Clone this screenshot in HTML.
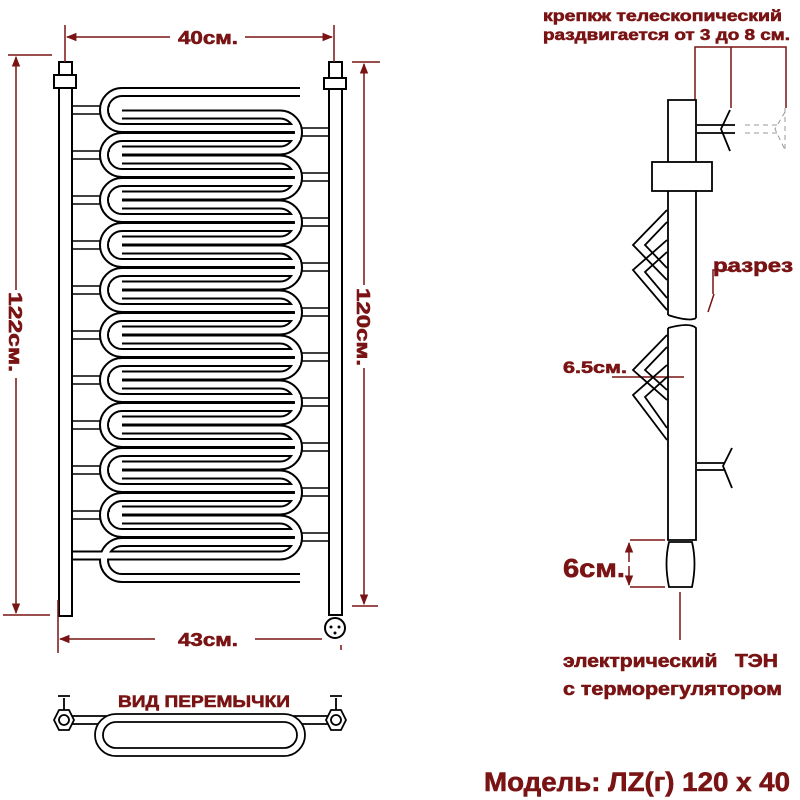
<!DOCTYPE html>
<html><head><meta charset="utf-8"><style>
html,body{margin:0;padding:0;background:#fff;width:800px;height:800px;overflow:hidden}
svg{display:block}
.t{font-family:"Liberation Sans","Noto Sans CJK SC",sans-serif;font-weight:bold;fill:#7a1414;stroke:#7a1414;stroke-width:0.6}
</style></head><body>
<svg width="800" height="800" viewBox="0 0 800 800" xmlns="http://www.w3.org/2000/svg">
<defs>
<marker id="a" viewBox="0 0 10 10" refX="9" refY="5" markerWidth="7" markerHeight="7" orient="auto-start-reverse"><path d="M0,1 L10,5 L0,9 z" fill="#7a1414"/></marker>
<g id="sp">
<path d="M300 92 H122 A18 18 0 0 0 122 128 H300"/>
<path d="M122 114.5 H280 A18 18 0 0 1 280 150.5 H122"/>
<path d="M300 137 H122 A18 18 0 0 0 122 173 H300"/>
<path d="M122 159.5 H280 A18 18 0 0 1 280 195.5 H122"/>
<path d="M300 182 H122 A18 18 0 0 0 122 218 H300"/>
<path d="M122 204.5 H280 A18 18 0 0 1 280 240.5 H122"/>
<path d="M300 227 H122 A18 18 0 0 0 122 263 H300"/>
<path d="M122 249.5 H280 A18 18 0 0 1 280 285.5 H122"/>
<path d="M300 272 H122 A18 18 0 0 0 122 308 H300"/>
<path d="M122 294.5 H280 A18 18 0 0 1 280 330.5 H122"/>
<path d="M300 317 H122 A18 18 0 0 0 122 353 H300"/>
<path d="M122 339.5 H280 A18 18 0 0 1 280 375.5 H122"/>
<path d="M300 362 H122 A18 18 0 0 0 122 398 H300"/>
<path d="M122 384.5 H280 A18 18 0 0 1 280 420.5 H122"/>
<path d="M300 407 H122 A18 18 0 0 0 122 443 H300"/>
<path d="M122 429.5 H280 A18 18 0 0 1 280 465.5 H122"/>
<path d="M300 452 H122 A18 18 0 0 0 122 488 H300"/>
<path d="M122 474.5 H280 A18 18 0 0 1 280 510.5 H122"/>
<path d="M300 497 H122 A18 18 0 0 0 122 533 H300"/>
<path d="M122 519.5 H280 A18 18 0 0 1 280 555.5 H72"/>
<path d="M300 542 H122 A18 18 0 0 0 122 578 H300"/>
</g>
</defs>
<!-- ladder bars -->
<g stroke="#000" stroke-width="1.5" fill="none">
<path d="M72 106 H110 M72 114 H110 M72 151 H110 M72 159 H110 M72 196 H110 M72 204 H110 M72 241 H110 M72 249 H110 M72 286 H110 M72 294 H110 M72 331 H110 M72 339 H110 M72 376 H110 M72 384 H110 M72 421 H110 M72 429 H110 M72 466 H110 M72 474 H110 M72 511 H110 M72 519 H110"/>
<path d="M300 128 H328 M300 136 H328 M300 173 H328 M300 181 H328 M300 218 H328 M300 226 H328 M300 263 H328 M300 271 H328 M300 308 H328 M300 316 H328 M300 353 H328 M300 361 H328 M300 398 H328 M300 406 H328 M300 443 H328 M300 451 H328 M300 488 H328 M300 496 H328 M300 533 H328 M300 541 H328"/>
</g>
<use href="#sp" fill="none" stroke="#000" stroke-width="10"/>
<use href="#sp" fill="none" stroke="#fff" stroke-width="6"/>
<!-- posts -->
<g stroke="#000" stroke-width="2" fill="#fff">
<rect x="59" y="62" width="13" height="554"/>
<rect x="329" y="62" width="13" height="553"/>
<rect x="54" y="75" width="22" height="13"/>
<rect x="324" y="78" width="22" height="11"/>
<circle cx="335" cy="628" r="10"/>
</g>
<g fill="#000"><circle cx="331" cy="627" r="1.5"/><circle cx="339" cy="627" r="1.5"/><circle cx="335" cy="633" r="1.5"/></g>
<!-- dimensions -->
<g stroke="#7a1414" stroke-width="1.5" fill="none">
<path d="M65 25 V62 M334 25 V62"/>
<path d="M245 37 H332" marker-end="url(#a)"/>
<path d="M170 37 H67" marker-end="url(#a)"/>
<path d="M8 55 H52 M3 615 H50"/>
<path d="M16 290 V57" marker-end="url(#a)"/>
<path d="M16 378 V613" marker-end="url(#a)"/>
<path d="M352 62 H380 M352 606 H378"/>
<path d="M364 285 V64" marker-end="url(#a)"/>
<path d="M364 368 V604" marker-end="url(#a)"/>
<path d="M58 600 V653 M341 645 V650"/>
<path d="M155 639 H60" marker-end="url(#a)"/>
<path d="M255 639 H322"/>
</g>
<text class="t" x="178" y="44" font-size="18" textLength="60" lengthAdjust="spacingAndGlyphs">40см.</text>
<text class="t" x="178" y="646" font-size="18" textLength="60" lengthAdjust="spacingAndGlyphs">43см.</text>
<text class="t" font-size="18" transform="translate(9,292) rotate(90)" textLength="80" lengthAdjust="spacingAndGlyphs">122см.</text>
<text class="t" font-size="18" transform="translate(357,288) rotate(90)" textLength="78" lengthAdjust="spacingAndGlyphs">120см.</text>
<!-- bottom view -->
<text class="t" x="118" y="707" font-size="17" textLength="172" lengthAdjust="spacingAndGlyphs">ВИД ПЕРЕМЫЧКИ</text>
<g stroke="#000" stroke-width="1.8" fill="#fff">
<path d="M68 716 H332 M68 724 H332"/>
<rect x="95" y="714" width="210" height="42" rx="21"/>
<rect x="103" y="722" width="194" height="26" rx="13"/>
<polygon points="59,710 69,710 74,720 69,730 59,730 54,720"/>
<circle cx="64" cy="720" r="5"/>
<polygon points="331,710 341,710 346,720 341,730 331,730 326,720"/>
<circle cx="336" cy="720" r="5"/>
<path d="M64 710 V698 M58 696 H70 M336 710 V698 M330 696 H342" fill="none"/>
</g>
<!-- side view -->
<g stroke="#7a1414" stroke-width="1.5" fill="none">
<path d="M695 100 V47 H786 V108 M731 47 V108"/>
<path d="M713 294 L713 270 L733 270 M708 312 L714 294"/>
<path d="M612 377 H684"/>
<path d="M665 540 H630 M665 587 H630"/>
<path d="M629 562 V543" marker-end="url(#a)"/><path d="M629 566 V585" marker-end="url(#a)"/>
<path d="M680 592 V640"/>
</g>
<g stroke="#000" stroke-width="1.8" fill="none">
<path d="M668 315 V100 H696 V318"/>
<path d="M668 315 Q690 322 696 318"/>
<path d="M668 328 V540 H696 V328 Q690 322 668 328"/>
<rect x="652" y="162" width="60" height="29" fill="#fff"/>
<path d="M697 125 H735 M697 133 H735"/>
<path d="M730 110 L721 129 L730 151"/>
<path d="M697 463 H725 M697 470 H725"/>
<path d="M732 448 L723 466 L732 488"/>
<path d="M667 210 L633 245 L667 280 M667 222 L645 245 L667 268"/>
<path d="M667 240 L633 270 L667 310 M667 252 L645 272 L667 298"/>
<path d="M667 335 L633 370 L667 400 M667 347 L645 370 L667 390"/>
<path d="M667 365 L633 395 L667 440 M667 377 L645 397 L667 428"/>
<path d="M669 542 Q664 563 669 587 H692 Q697 563 692 542 Z"/>
</g>
<g stroke="#999" stroke-width="1" fill="none" stroke-dasharray="5,4">
<path d="M745 125 H780 M745 133 H780"/>
<path d="M785 108 V152 M785 112 L775 129 L785 150"/>
</g>
<text class="t" x="543" y="21" font-size="16" textLength="239" lengthAdjust="spacingAndGlyphs">крепкж телескопический</text>
<text class="t" x="543" y="40" font-size="16" textLength="247" lengthAdjust="spacingAndGlyphs">раздвигается от 3 до 8 см.</text>
<text class="t" x="713" y="272" font-size="19" textLength="80" lengthAdjust="spacingAndGlyphs">разрез</text>
<text class="t" x="563" y="373" font-size="17" textLength="64" lengthAdjust="spacingAndGlyphs">6.5см.</text>
<text class="t" x="563" y="577" font-size="26" textLength="62" lengthAdjust="spacingAndGlyphs">6см.</text>
<text class="t" x="563" y="667" font-size="18" textLength="215" lengthAdjust="spacingAndGlyphs">электрический&#160;&#160; ТЭН</text>
<text class="t" x="563" y="695" font-size="18" textLength="219" lengthAdjust="spacingAndGlyphs">с терморегулятором</text>
<text class="t" x="484" y="791" font-size="27" textLength="306" lengthAdjust="spacingAndGlyphs">Модель: ЛZ(г) 120 х 40</text>
</svg>
</body></html>
